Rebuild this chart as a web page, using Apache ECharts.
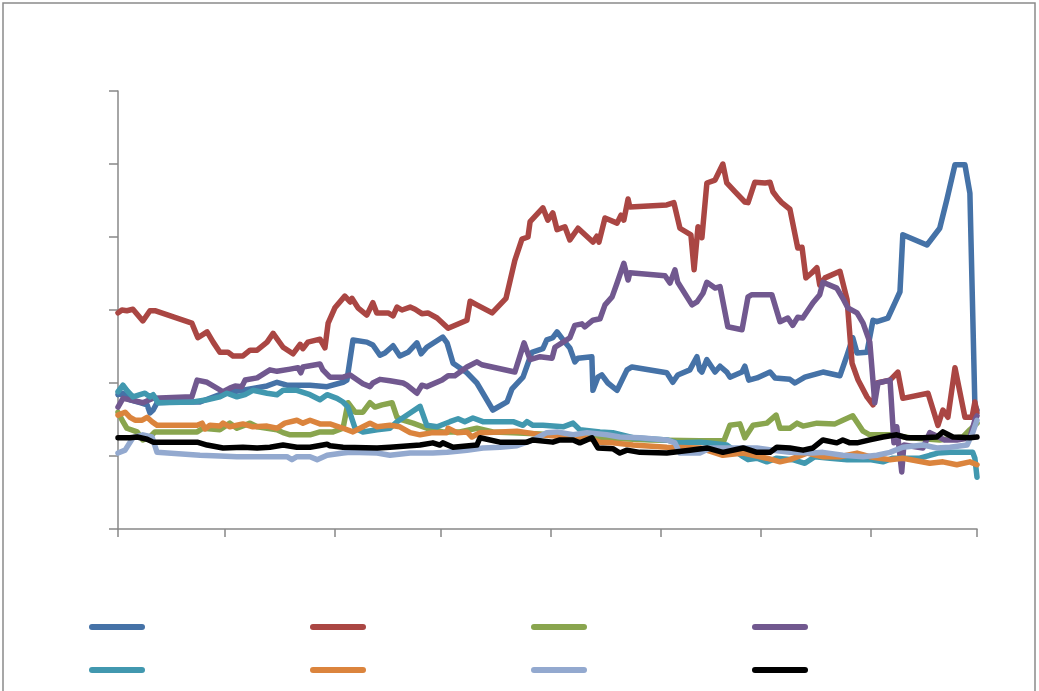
<!DOCTYPE html>
<html><head><meta charset="utf-8">
<script src="https://cdn.jsdelivr.net/npm/echarts@6/dist/echarts.min.js"></script>
<style>html,body{margin:0;padding:0;background:#fff}#c{width:1039px;height:691px}</style>
</head><body><div id="c"></div>
<script>
// x values are day offsets from 2010-09-01; y values on 0..6 scale
const seriesNames = ['S1','S2','S3','S4','S5','S6','S7','S8'];
const blueData = [[0,1.84],[1.4,1.86],[3.4,1.77],[6.2,1.73],[8.2,1.70],[9.0,1.59],[9.9,1.63],[11.0,1.73],[16.1,1.74],[23.1,1.74],[29.6,1.86],[35.2,1.90],[42.0,1.96],[44.8,2.01],[47.6,1.97],[54.1,1.97],[58.9,1.95],[63.4,2.01],[64.5,2.04],[66.2,2.59],[70.1,2.56],[71.8,2.52],[73.8,2.38],[75.2,2.41],[77.5,2.51],[79.4,2.37],[81.7,2.42],[84.2,2.55],[85.4,2.40],[87.0,2.49],[91.5,2.63],[92.7,2.55],[94.4,2.27],[98.3,2.14],[101.1,2.0],[105.6,1.63],[109.6,1.74],[111.0,1.92],[114.1,2.08],[115.5,2.27],[116.6,2.42],[119.7,2.47],[120.8,2.59],[122.5,2.62],[123.7,2.70],[125.4,2.59],[127.3,2.48],[128.7,2.29],[129.6,2.34],[133.5,2.36],[133.8,1.90],[135.2,2.08],[136.3,2.11],[138.0,2.0],[140.6,1.90],[143.4,2.18],[144.8,2.22],[154.6,2.14],[156.3,2.01],[157.7,2.11],[161.1,2.18],[163.1,2.36],[163.9,2.18],[164.5,2.15],[165.9,2.32],[168.2,2.15],[169.6,2.23],[171.5,2.15],[172.4,2.08],[175.8,2.15],[176.6,2.23],[177.7,2.04],[180.0,2.07],[183.7,2.15],[185.1,2.07],[189.3,2.05],[190.7,2.0],[193.5,2.08],[198.6,2.15],[203.4,2.10],[205.4,2.38],[207.0,2.62],[208.2,2.41],[211.0,2.42],[212.7,2.86],[213.8,2.84],[216.9,2.89],[218.9,3.10],[220.3,3.25],[221.1,4.03],[227.9,3.89],[231.5,4.12],[233.5,4.51],[235.8,4.99],[238.6,4.99],[240.0,4.60],[241.4,1.70],[242,1.63]];
const redData = [[0,2.96],[1.1,3.0],[2.5,2.99],[4.2,3.01],[7.0,2.85],[9.0,2.99],[10.4,2.99],[20.8,2.82],[22.5,2.62],[25.1,2.70],[26.8,2.56],[28.7,2.42],[31.0,2.42],[32.4,2.37],[35.2,2.37],[37.2,2.45],[39.2,2.45],[42.0,2.56],[43.7,2.68],[46.5,2.49],[49.3,2.40],[51.3,2.53],[52.1,2.47],[53.5,2.56],[56.9,2.60],[58.3,2.48],[59.2,2.82],[61.1,3.03],[63.9,3.19],[65.4,3.11],[65.9,3.16],[67.6,3.03],[70.1,2.93],[71.8,3.10],[72.9,2.96],[76.1,2.96],[77.5,2.92],[78.6,3.04],[80.0,3.0],[82.3,3.04],[83.7,3.01],[85.6,2.95],[87.3,2.96],[89.9,2.89],[93.0,2.75],[98.3,2.86],[99.2,3.12],[101.1,3.07],[105.4,2.96],[109.3,3.16],[111.8,3.68],[113.8,3.97],[115.5,4.0],[116.1,4.21],[119.7,4.40],[121.1,4.23],[122.5,4.33],[123.7,4.10],[125.9,4.14],[127.3,3.96],[129.6,4.12],[133.8,3.93],[134.9,4.01],[135.5,3.93],[137.2,4.26],[140.6,4.19],[141.7,4.30],[142.5,4.23],[143.7,4.52],[144.2,4.41],[154.6,4.44],[156.6,4.47],[158.3,4.12],[161.4,4.03],[162.3,3.55],[163.4,4.14],[164.5,3.99],[165.9,4.74],[168.2,4.78],[170.4,5.0],[171.5,4.74],[173.8,4.62],[176.6,4.48],[177.5,4.47],[179.4,4.75],[182.3,4.74],[183.7,4.75],[184.5,4.62],[185.9,4.53],[187.0,4.47],[189.3,4.38],[191.5,3.85],[192.7,3.86],[193.8,3.44],[195.5,3.51],[196.9,3.58],[197.7,3.34],[199.2,3.44],[203.4,3.53],[205.4,3.14],[206.8,2.27],[208.5,2.04],[211.0,1.81],[212.7,1.70],[213.8,2.0],[217.5,2.04],[219.7,2.15],[221.1,1.79],[228.2,1.86],[231.0,1.42],[232.4,1.63],[233.8,1.53],[235.8,2.21],[238.6,1.53],[240.6,1.53],[241.4,1.74],[242,1.59]];
const greenData = [[0,1.60],[1.4,1.47],[2.5,1.38],[5.4,1.33],[7.0,1.22],[9.0,1.26],[10.4,1.33],[22.3,1.33],[23.9,1.38],[28.7,1.36],[31.5,1.45],[33.5,1.38],[37.2,1.45],[39.2,1.40],[44.8,1.36],[46.5,1.32],[48.5,1.29],[54.1,1.29],[56.9,1.33],[60.6,1.33],[63.4,1.38],[64.8,1.73],[66.8,1.60],[69.0,1.60],[71.0,1.73],[72.4,1.67],[74.4,1.70],[77.2,1.73],[78.6,1.53],[80.3,1.49],[83.1,1.45],[87.0,1.38],[91.5,1.33],[96.3,1.33],[101.1,1.38],[105.6,1.33],[111.3,1.32],[118.9,1.30],[127.3,1.27],[135.8,1.25],[149.9,1.22],[163.9,1.21],[170.7,1.21],[172.4,1.42],[175.2,1.44],[176.6,1.25],[178.9,1.42],[182.8,1.45],[185.4,1.56],[186.5,1.38],[189.3,1.38],[191.3,1.45],[193.0,1.41],[196.9,1.45],[202.0,1.44],[204.2,1.49],[207.0,1.55],[209.9,1.34],[211.8,1.29],[217.5,1.29],[223.1,1.25],[231.5,1.22],[238.0,1.26],[240.0,1.36],[242,1.45]];
const purpleData = [[0,1.67],[1.4,1.79],[3.4,1.77],[7.0,1.73],[9.9,1.79],[20.8,1.81],[22.3,2.04],[25.1,2.01],[29.6,1.88],[31.5,1.93],[33.0,1.96],[34.9,1.95],[35.8,2.04],[39.2,2.07],[42.8,2.18],[44.8,2.16],[48.5,2.19],[50.7,2.21],[51.5,2.14],[52.1,2.22],[56.9,2.26],[57.7,2.18],[59.7,2.08],[63.4,2.08],[65.4,2.11],[69.0,1.99],[71.0,1.95],[71.8,2.0],[73.8,2.05],[76.6,2.03],[80.3,2.0],[81.4,1.97],[84.2,1.86],[85.6,1.97],[87.0,1.95],[91.3,2.04],[93.0,2.10],[94.9,2.10],[98.3,2.22],[101.1,2.29],[102.5,2.25],[111.8,2.15],[114.4,2.55],[116.1,2.32],[118.9,2.36],[122.3,2.34],[123.1,2.49],[125.4,2.56],[127.3,2.62],[128.7,2.79],[130.7,2.81],[131.5,2.77],[133.8,2.86],[135.8,2.88],[137.2,3.07],[139.2,3.18],[140.6,3.37],[142.5,3.64],[143.7,3.41],[144.2,3.51],[154.1,3.47],[155.5,3.37],[156.9,3.55],[157.7,3.38],[161.7,3.07],[163.1,3.11],[164.8,3.23],[165.9,3.38],[168.2,3.30],[169.6,3.32],[171.8,2.77],[175.8,2.73],[177.5,3.18],[178.6,3.21],[184.2,3.21],[186.5,2.84],[188.7,2.89],[190.1,2.79],[191.5,2.90],[192.9,2.89],[195.8,3.10],[197.7,3.21],[198.6,3.38],[202.5,3.30],[204.2,3.16],[205.6,3.03],[208.2,2.96],[209.9,2.82],[211.8,2.56],[213.2,1.73],[214.1,2.0],[217.5,2.04],[218.6,1.18],[219.4,1.40],[220.8,0.78],[221.4,1.15],[226.8,1.11],[228.7,1.32],[232.9,1.22],[236.3,1.22],[240.0,1.25],[241.4,1.49],[242,1.55]];
const tealData = [[0,1.88],[1.4,1.97],[2.5,1.90],[4.2,1.81],[6.2,1.84],[7.6,1.86],[9.0,1.81],[9.9,1.84],[11.3,1.73],[21.1,1.74],[25.1,1.77],[28.7,1.81],[30.7,1.86],[33.5,1.81],[35.8,1.84],[38.0,1.90],[42.0,1.86],[44.8,1.84],[46.5,1.90],[50.4,1.90],[54.1,1.84],[56.9,1.77],[58.9,1.84],[61.7,1.79],[63.4,1.74],[64.8,1.67],[66.8,1.38],[69.0,1.33],[73.0,1.36],[76.6,1.38],[78.6,1.47],[82.3,1.59],[85.1,1.68],[87.0,1.42],[89.9,1.40],[93.5,1.47],[95.8,1.51],[97.7,1.47],[100.0,1.52],[102.8,1.47],[111.3,1.47],[114.1,1.42],[115.2,1.47],[116.9,1.42],[119.7,1.42],[125.4,1.40],[128.2,1.45],[130.1,1.36],[135.8,1.33],[139.4,1.32],[145.1,1.25],[154.6,1.22],[157.5,1.18],[163.9,1.19],[165.9,1.18],[171.5,1.15],[176.1,0.99],[177.5,0.95],[180.0,0.97],[182.8,0.92],[185.6,0.97],[190.1,0.95],[193.5,0.90],[196.3,0.99],[200.6,0.97],[205.4,0.95],[211.8,0.95],[215.5,0.92],[218.3,0.97],[225.9,0.97],[228.7,1.01],[231.0,1.04],[234.4,1.05],[240.8,1.05],[241.4,0.97],[242,0.71]];
const orangeData = [[0,1.56],[2.0,1.60],[3.4,1.53],[4.8,1.49],[6.8,1.49],[8.2,1.53],[9.6,1.47],[11.0,1.42],[22.3,1.42],[23.7,1.45],[24.5,1.37],[25.9,1.42],[28.7,1.41],[29.6,1.45],[31.5,1.40],[35.2,1.44],[38.0,1.40],[42.0,1.41],[44.8,1.38],[47.0,1.45],[50.4,1.49],[52.1,1.45],[54.1,1.49],[56.9,1.44],[59.7,1.44],[63.4,1.38],[66.2,1.33],[69.0,1.40],[71.0,1.45],[73.0,1.40],[76.6,1.42],[79.4,1.40],[82.3,1.32],[85.1,1.29],[88.7,1.32],[92.7,1.32],[93.0,1.38],[95.5,1.32],[98.3,1.33],[99.7,1.26],[102.0,1.32],[107.6,1.33],[112.4,1.34],[115.2,1.32],[118.9,1.29],[126.5,1.26],[132.1,1.25],[135.8,1.19],[139.4,1.18],[145.1,1.15],[154.6,1.12],[163.9,1.11],[170.4,1.01],[176.1,1.04],[182.8,0.97],[186.5,0.92],[189.3,0.95],[194.1,1.04],[198.6,0.99],[203.4,0.99],[208.2,1.04],[211.8,0.99],[214.6,0.97],[217.5,0.95],[221.1,0.97],[228.7,0.90],[232.4,0.92],[236.3,0.88],[240.0,0.92],[242,0.88]];
const lightBlueData = [[0,1.04],[2.0,1.08],[4.2,1.25],[7.0,1.29],[9.6,1.26],[11.0,1.05],[23.1,1.01],[28.7,1.0],[33.5,0.99],[38.0,0.99],[42.8,0.99],[47.6,0.99],[49.0,0.95],[50.4,0.99],[54.1,0.99],[56.1,0.95],[58.9,1.01],[63.4,1.04],[65.4,1.05],[73.0,1.04],[76.6,1.01],[82.3,1.04],[88.7,1.04],[92.7,1.05],[98.3,1.08],[102.8,1.11],[107.6,1.12],[112.4,1.14],[116.9,1.22],[120.8,1.32],[123.7,1.33],[128.2,1.29],[132.1,1.32],[137.7,1.29],[141.4,1.26],[147.0,1.25],[154.6,1.22],[156.9,1.18],[158.3,1.04],[163.9,1.04],[166.8,1.11],[180.0,1.11],[184.5,1.08],[189.3,1.05],[195.8,1.04],[198.6,1.05],[204.2,1.01],[209.9,0.99],[213.8,1.01],[217.5,1.05],[221.1,1.12],[226.8,1.15],[230.7,1.11],[234.4,1.12],[239.2,1.15],[240.8,1.32],[242,1.49]];
const blackData = [[0,1.25],[3.4,1.25],[5.4,1.26],[8.2,1.23],[9.9,1.19],[22.3,1.19],[25.1,1.15],[29.6,1.11],[35.2,1.12],[39.2,1.11],[42.8,1.12],[46.5,1.15],[50.4,1.12],[54.1,1.12],[58.9,1.16],[59.7,1.14],[63.4,1.12],[73.0,1.11],[76.6,1.12],[85.1,1.15],[88.7,1.18],[90.7,1.15],[91.5,1.18],[94.4,1.12],[101.1,1.15],[102.0,1.25],[107.6,1.19],[115.2,1.19],[116.9,1.22],[122.5,1.19],[124.5,1.22],[128.2,1.22],[130.1,1.18],[133.5,1.25],[135.2,1.11],[139.4,1.10],[141.4,1.04],[143.4,1.08],[147.0,1.05],[154.6,1.04],[161.1,1.08],[165.9,1.11],[170.4,1.05],[176.1,1.11],[180.0,1.05],[183.7,1.05],[185.6,1.12],[189.3,1.11],[193.0,1.08],[195.8,1.11],[198.6,1.22],[202.5,1.18],[204.2,1.22],[206.2,1.18],[208.2,1.18],[211.8,1.22],[215.5,1.26],[219.4,1.29],[222.3,1.25],[226.8,1.25],[230.7,1.26],[232.4,1.33],[235.2,1.26],[240.0,1.25],[242,1.26]];

const allData = [blueData, redData, greenData, purpleData, tealData, orangeData, lightBlueData, blackData];
const colors = ['#4572A7','#AA4643','#89A54E','#71588F','#4198AF','#DB843D','#93A9CF','#000000'];

const DAY = 86400000;
const base = new Date(2010, 8, 1).getTime();
const axisMax = new Date(2011, 4, 1).getTime();
const axisColor = '#888888';
const icon = 'path://M3,0 L53,0 A3,3 0 0 1 53,6 L3,6 A3,3 0 0 1 3,0 Z';

const chart = echarts.init(document.getElementById('c'), null, {renderer: 'canvas'});
const legendCommon = {
  left: 89, orient: 'horizontal', itemWidth: 56, itemHeight: 6, itemGap: 165,
  icon: icon, formatter: () => '', selectedMode: false,
  itemStyle: {borderWidth: 0}, textStyle: {fontSize: 1}, padding: 0
};
chart.setOption({
  animation: false,
  backgroundColor: '#ffffff',
  graphic: [{type: 'rect', shape: {x: 3, y: 3, width: 1032, height: 720}, style: {fill: 'none', stroke: '#8a8a8a', lineWidth: 1.5}, silent: true}],
  grid: {left: 118, top: 91, width: 859, height: 438, outerBoundsMode: 'none', containLabel: false},
  legend: [
    Object.assign({}, legendCommon, {top: 624, data: seriesNames.slice(0, 4)}),
    Object.assign({}, legendCommon, {top: 667, data: seriesNames.slice(4)})
  ],
  xAxis: {
    type: 'time', min: base, max: axisMax, splitNumber: 8,
    minInterval: 28 * DAY, maxInterval: 31 * DAY,
    axisLabel: {show: false},
    axisLine: {show: true, lineStyle: {color: axisColor, width: 1.5}},
    axisTick: {show: true, length: 8, lineStyle: {color: axisColor, width: 1.5}},
    splitLine: {show: false}
  },
  yAxis: {
    type: 'value', min: 0, max: 6, interval: 1,
    axisLabel: {show: false},
    axisLine: {show: true, lineStyle: {color: axisColor, width: 1.5}},
    axisTick: {show: true, length: 9, lineStyle: {color: axisColor, width: 1.5}},
    splitLine: {show: false}
  },
  series: allData.map((d, i) => ({
    name: seriesNames[i],
    type: 'line',
    color: colors[i],
    showSymbol: false,
    symbol: 'none',
    clip: false,
    emphasis: {disabled: true},
    lineStyle: {width: 5.5, color: colors[i], cap: 'round', join: 'round'},
    data: d.map(p => [base + p[0] * DAY, p[1]])
  }))
});
</script></body></html>
